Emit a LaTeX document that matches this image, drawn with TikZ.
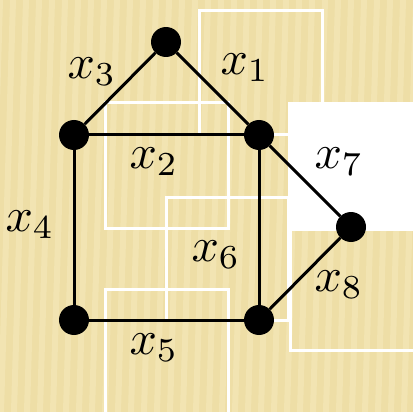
\documentclass[tikz,border=0pt]{standalone}
\usepackage{xcolor}
\definecolor{paperbg}   {RGB}{238,222,166}
\definecolor{paperlight}{RGB}{248,237,194}
\newcommand{\xlab}[1]{$x_{#1}$}

\begin{document}
\begin{tikzpicture}[
    x=1pt, y=-1pt,
    vertex/.style={circle, fill=black, inner sep=0pt, minimum size=30pt},
    edge/.style={line width=3pt},
    lbl/.style={inner sep=0pt, scale=4.8},
    ghost/.style={draw=white, line width=3pt}
]
    % background
    \useasboundingbox (0,0) rectangle (413,412);
    \fill[paperbg] (0,0) rectangle (413,412);
    \foreach \s in {-26,-13,...,440}
        \draw[paperlight, line width=6pt, opacity=0.45] (\s,0) -- (\s-12,412);

    % leftover frames
    \draw[ghost] (199,11) rectangle (322,135);
    \draw[ghost] (105,103) rectangle (228,228);
    \draw[ghost] (166,197) rectangle (288,320);
    \draw[ghost] (105,289) rectangle (228,420);
    \draw[ghost] (290,229) rectangle (420,350);
    \fill[white] (288,102) rectangle (413,229);

    % graph
    \node[vertex] (top) at (166,42) {};
    \node[vertex] (lt) at (74,135) {};
    \node[vertex] (rt) at (259,135) {};
    \node[vertex] (lb) at (74,320) {};
    \node[vertex] (rb) at (259,320) {};
    \node[vertex] (tip) at (351,227) {};

    \draw[edge] (top) -- (rt);
    \draw[edge] (lt) -- (rt);
    \draw[edge] (top) -- (lt);
    \draw[edge] (lt) -- (lb);
    \draw[edge] (lb) -- (rb);
    \draw[edge] (rt) -- (rb);
    \draw[edge] (rt) -- (tip);
    \draw[edge] (rb) -- (tip);

    \node[lbl] (l1) at (245,68) {\xlab{1}};
    \node[lbl] (l2) at (154,162) {\xlab{2}};
    \node[lbl] (l3) at (92,72) {\xlab{3}};
    \node[lbl] (l4) at (30,225) {\xlab{4}};
    \node[lbl] (l5) at (154,348) {\xlab{5}};
    \node[lbl] (l6) at (216,255) {\xlab{6}};
    \node[lbl] (l7) at (339,162) {\xlab{7}};
    \node[lbl] (l8) at (339,285) {\xlab{8}};
\end{tikzpicture}
\end{document}
